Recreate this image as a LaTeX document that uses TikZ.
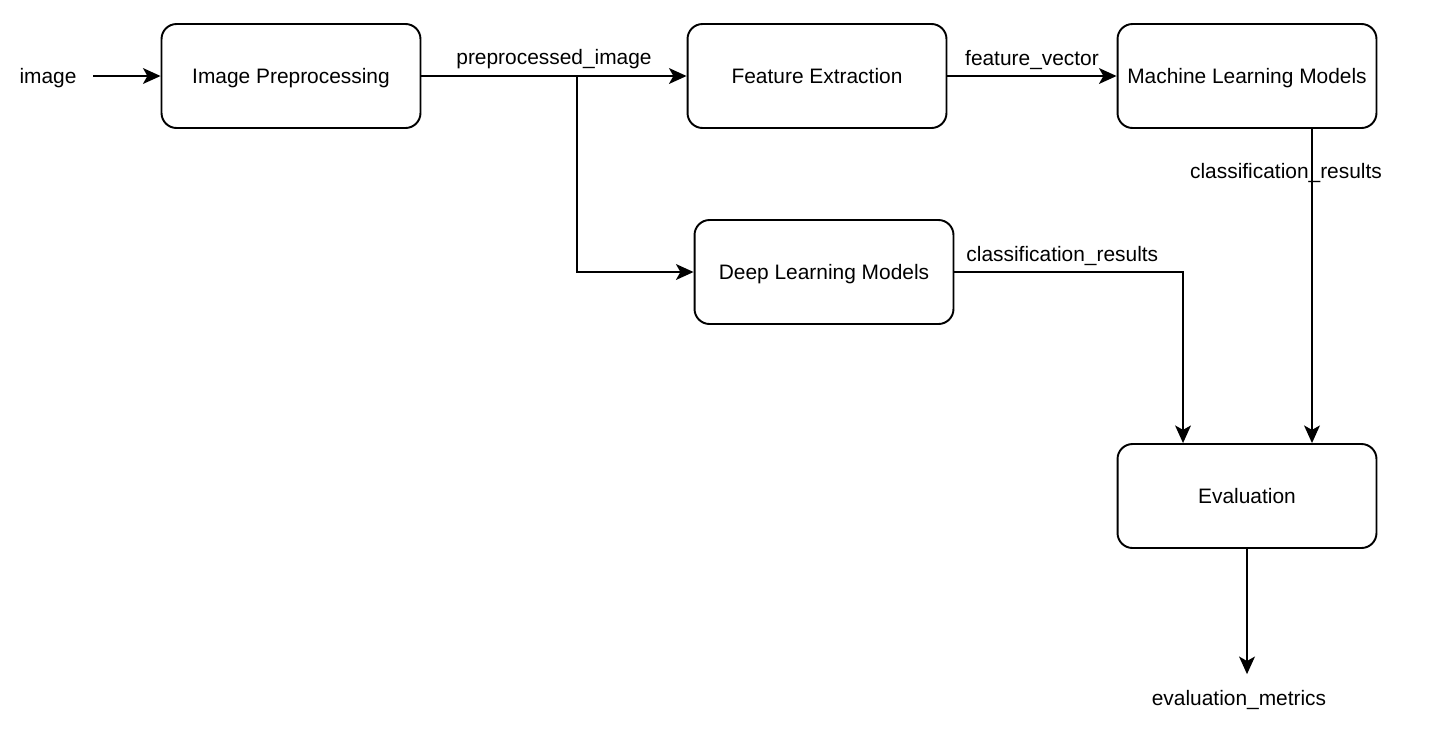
\documentclass[tikz,border=0pt]{standalone}
\usepackage{fontspec}
\setmainfont{Liberation Sans}
\usetikzlibrary{arrows.meta}
\begin{document}
\begin{tikzpicture}[x=0.02cm,y=-0.02cm,
    font=\fontsize{11.9}{14}\selectfont,
    procbox/.style={draw,line width=1.1pt,rounded corners=0.3cm,
      minimum width=5.18cm,minimum height=2.08cm,align=center,
      text height=0.86em,text depth=0em},
    flow/.style={line width=1.1pt,
      -{Stealth[length=10pt,width=9pt,inset=2.5pt]}}]

\useasboundingbox (0,0) rectangle (1429,735);

\node[text height=0.86em,text depth=0em] at (48,76) (img) {image};
\node[procbox] at (291,76) (IP) {Image Preprocessing};
\node[procbox] at (817,76) (FE) {Feature Extraction};
\node[procbox] at (1247,76) (ML) {Machine Learning Models};
\node[procbox] at (824,272) (DL) {Deep Learning Models};
\node[procbox] at (1247,496) (Eval) {Evaluation};
\node at (1239,700) (metrics) {evaluation\_metrics};

\draw[flow,shorten <=6pt] (img) -- (IP);

\draw[flow] (IP)
     -- node[pos=0.5,above]{preprocessed\_image}
     (FE);
\coordinate (split) at (577,76);
\draw[flow] (split) |- (DL);

\draw[flow] (FE)
     -- node[pos=0.5,above]{feature\_vector}
     (ML);

\coordinate (mlout) at ([xshift=1.3cm]ML.south);
\coordinate (mlin) at ([xshift=1.3cm]Eval.north);
\draw[flow] (mlout)
     -- node[pos=0.14,xshift=-0.52cm]{classification\_results}
     (mlin);

\coordinate (dlin) at ([xshift=-1.28cm]Eval.north);
\draw[flow] (DL.east)
     -| node[pos=0.236,above]{classification\_results}
     (dlin);

\coordinate (metin) at ([yshift=0.2cm]Eval.south |- metrics.north);
\draw[flow] (Eval) -- (metin);

\end{tikzpicture}
\end{document}
